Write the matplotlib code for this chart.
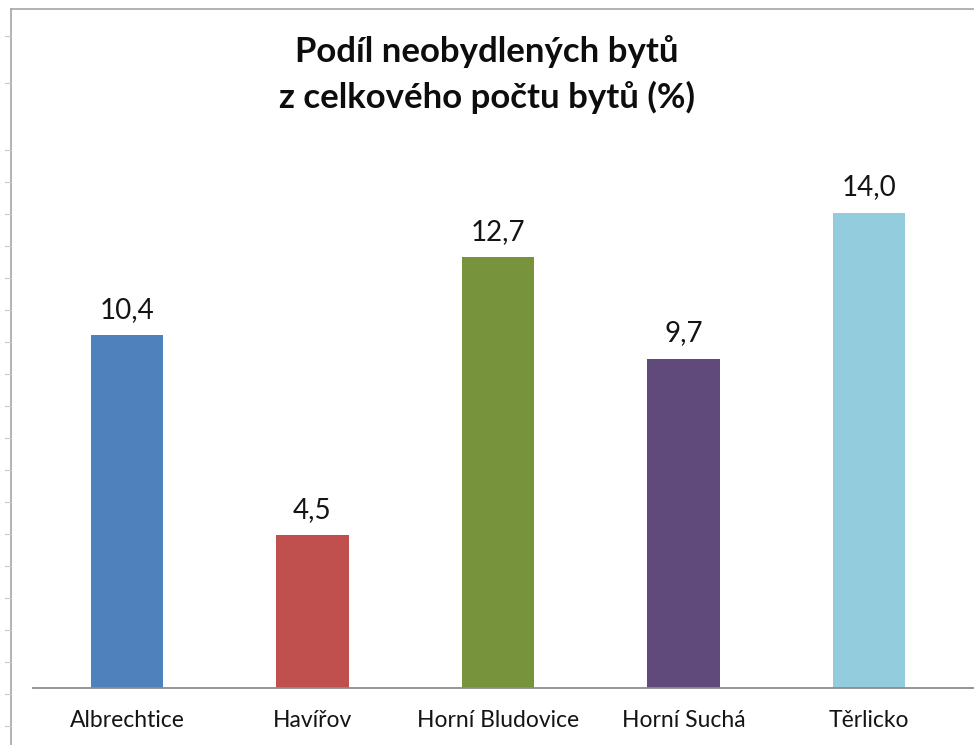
import matplotlib.pyplot as plt
from matplotlib.lines import Line2D

plt.rcParams['font.family'] = ['Lato', 'DejaVu Sans']

# data
obce = ['Albrechtice', 'Havířov', 'Horní Bludovice', 'Horní Suchá', 'Těrlicko']
podil = [10.4, 4.5, 12.7, 9.7, 14.0]
barvy = ['#4F81BD', '#C0504D', '#77933C', '#604A7B', '#93CDDD']
popisky = ['10,4', '4,5', '12,7', '9,7', '14,0']

W, H = 974, 745
fig = plt.figure(figsize=(W / 100, H / 100), dpi=100)

# okraj grafu (vyrez z Excelu) + radky listu vlevo
fig.add_artist(Line2D([11 / W, 11 / W], [0, 1 - 9 / H], color='#a6a6a6', lw=1.2))
fig.add_artist(Line2D([11 / W, 1], [1 - 9 / H, 1 - 9 / H], color='#a6a6a6', lw=1.2))
rows = [36, 83] + list(range(150, 745, 32))
for r in rows:
    fig.add_artist(Line2D([5 / W, 11 / W], [1 - r / H, 1 - r / H], color='#c8c8c8', lw=0.8))

ax = fig.add_axes([33 / W, (H - 688) / H, 1 - 33 / W, (688 - 145) / H])
x = range(len(obce))
ax.bar(x, podil, width=0.39, color=barvy)
ax.set_xlim(-0.506, 4.565)
ax.set_ylim(0, 16)

for xi, v, t in zip(x, podil, popisky):
    ax.annotate(t, (xi, v), xytext=(0, 12.5), textcoords='offset points',
                ha='center', va='baseline', fontsize=20, color='#141414')

ax.set_xticks(list(x))
ax.set_xticklabels(obce, fontsize=16.5, color='#141414')
ax.tick_params(axis='x', length=0, pad=16)
ax.set_yticks([])
for s in ['top', 'right', 'left']:
    ax.spines[s].set_visible(False)
ax.spines['bottom'].set_color('#8c8c8c')
ax.spines['bottom'].set_linewidth(1.3)

titulek = ['Podíl neobydlených bytů', 'z celkového počtu bytů (%)']
for radek, yb in zip(titulek, [62, 108]):
    fig.text(487 / W, 1 - yb / H, radek, ha='center', va='baseline',
             fontsize=25, fontweight='bold', color='#0d0d0d')

fig.savefig('out.png', dpi=100)
